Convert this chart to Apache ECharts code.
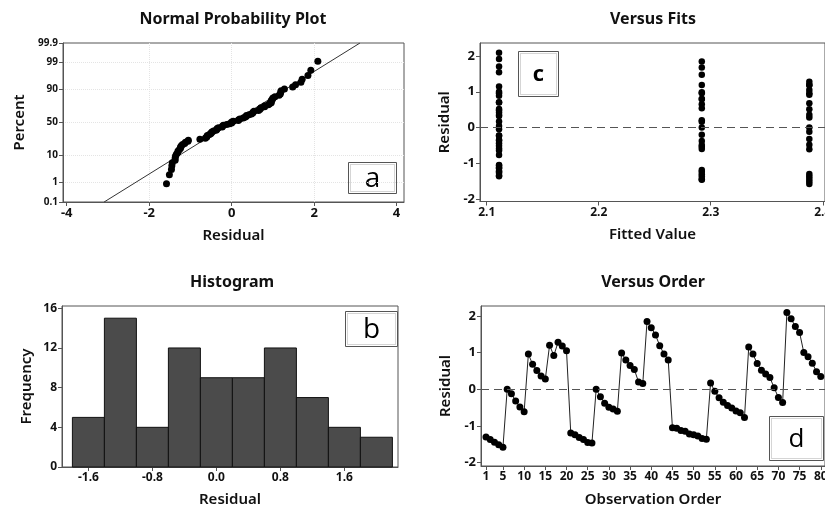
<!DOCTYPE html>
<html>
<head>
<meta charset="utf-8">
<style>html,body{margin:0;padding:0;background:#fff}#chart{width:825px;height:509px}</style>
<script src="https://cdn.jsdelivr.net/npm/echarts@6/dist/echarts.min.js"></script>
</head>
<body>
<div id="chart"></div>
<script>
// residuals in observation order 1..80
const residuals = [
  -1.30, -1.37, -1.44, -1.51, -1.58,
  0.00, -0.12, -0.32, -0.48, -0.61,
  0.96, 0.68, 0.51, 0.36, 0.28,
  1.20, 0.92, 1.28, 1.18, 1.05,
  -1.19, -1.24, -1.31, -1.37, -1.45, -1.46,
  0.00, -0.20, -0.38, -0.49, -0.54, -0.60,
  0.99, 0.80, 0.65, 0.54, 0.20, 0.16,
  1.85, 1.68, 1.48, 1.19, 0.96, 0.80,
  -1.05, -1.06, -1.12, -1.14, -1.22, -1.24, -1.27, -1.34, -1.36,
  0.17, -0.05, -0.23, -0.35, -0.44, -0.51, -0.59, -0.64, -0.77,
  1.15, 0.96, 0.70, 0.52, 0.42, 0.32, 0.04, -0.22, -0.36,
  2.09, 1.92, 1.71, 1.55, 1.00, 0.89, 0.71, 0.48, 0.35
]
// fitted value of each observation
const fitted = [
  2.388, 2.388, 2.388, 2.388, 2.388, 2.388, 2.388, 2.388, 2.388, 2.388,
  2.388, 2.388, 2.388, 2.388, 2.388, 2.388, 2.388, 2.388, 2.388, 2.388,
  2.292, 2.292, 2.292, 2.292, 2.292, 2.292, 2.292, 2.292, 2.292, 2.292, 2.292, 2.292,
  2.292, 2.292, 2.292, 2.292, 2.292, 2.292, 2.292, 2.292, 2.292, 2.292, 2.292, 2.292,
  2.111, 2.111, 2.111, 2.111, 2.111, 2.111, 2.111, 2.111, 2.111,
  2.111, 2.111, 2.111, 2.111, 2.111, 2.111, 2.111, 2.111, 2.111,
  2.111, 2.111, 2.111, 2.111, 2.111, 2.111, 2.111, 2.111, 2.111,
  2.111, 2.111, 2.111, 2.111, 2.111, 2.111, 2.111, 2.111, 2.111
]
const histCenters = [-1.6, -1.2, -0.8, -0.4, 0.0, 0.4, 0.8, 1.2, 1.6, 2.0]
const histCounts = [5, 15, 4, 12, 9, 9, 12, 7, 4, 3]
const binWidth = 0.4

const percentTicks = [0.1, 1, 10, 50, 90, 99, 99.9]
const residualTicks = [-4, -2, 0, 2, 4]
const smallResidualTicks = [-2, -1, 0, 1, 2]
const histXTicks = [-1.6, -0.8, 0.0, 0.8, 1.6]
const histYTicks = [0, 4, 8, 12, 16]
const fitTicks = [2.1, 2.2, 2.3, 2.4]
const orderTicks = [1, 5, 10, 15, 20, 25, 30, 35, 40, 45, 50, 55, 60, 65, 70, 75, 80]

// inverse normal cdf (Acklam)
const normInv = (p) => {
  const a = [-39.69683028665376, 220.9460984245205, -275.9285104469687, 138.3577518672690, -30.66479806614716, 2.506628277459239]
  const b = [-54.47609879822406, 161.5858368580409, -155.6989798598866, 66.80131188771972, -13.28068155288572]
  const c = [-0.007784894002430293, -0.3223964580411365, -2.400758277161838, -2.549732539343734, 4.374664141464968, 2.938163982698783]
  const d = [0.007784695709041462, 0.3224671290700398, 2.445134137142996, 3.754408661907416]
  const tail = (q) => (((((c[0] * q + c[1]) * q + c[2]) * q + c[3]) * q + c[4]) * q + c[5]) /
    ((((d[0] * q + d[1]) * q + d[2]) * q + d[3]) * q + 1)
  if (p < 0.02425) return tail(Math.sqrt(-2 * Math.log(p)))
  if (p > 1 - 0.02425) return -tail(Math.sqrt(-2 * Math.log(1 - p)))
  const q = p - 0.5
  const r = q * q
  return (((((a[0] * r + a[1]) * r + a[2]) * r + a[3]) * r + a[4]) * r + a[5]) * q /
    (((((b[0] * r + b[1]) * r + b[2]) * r + b[3]) * r + b[4]) * r + 1)
}

const n = residuals.length
const sorted = residuals.slice().sort((x, y) => x - y)
const probData = sorted.map((r, i) => [r, normInv((i + 1 - 0.3) / (n + 0.4))])
const mean = residuals.reduce((s, v) => s + v, 0) / n
const sd = Math.sqrt(residuals.reduce((s, v) => s + (v - mean) ** 2, 0) / (n - 1))
const percentZ = percentTicks.map(p => normInv(p / 100))
const zLo = percentZ[0]
const zHi = percentZ[percentZ.length - 1]

const font = 'Noto Sans'
const makeAxis = (gridIndex, min, max, ticks, name, nameGap, formatter, labelSize, grid) => ({
  type: 'value', gridIndex, min, max, name, nameGap,
  nameLocation: 'middle',
  nameTextStyle: {color: '#111', fontSize: 15, fontWeight: 600, fontFamily: font},
  axisLine: {show: true, onZero: false, lineStyle: {color: '#555'}},
  axisTick: {show: true, length: 4, customValues: ticks, lineStyle: {color: '#555'}},
  axisLabel: {
    customValues: ticks, formatter, margin: 5, hideOverlap: false,
    color: '#111', fontSize: labelSize || 12, fontWeight: 'bold', fontFamily: font
  },
  splitLine: {
    show: !!grid, showMinLine: false, showMaxLine: false,
    lineStyle: {color: '#e4e4e4', type: 'dotted'}
  }
})

const zeroLine = {
  silent: true,
  symbol: 'none',
  label: {show: false},
  lineStyle: {color: '#555', width: 1, type: [8, 5]},
  data: [{yAxis: 0}]
}

const titleStyle = {color: '#111', fontSize: 16, fontWeight: 'bold', fontFamily: font}
const makeTitle = (text, x, y) => ({text, left: x, top: y, padding: 0, textAlign: 'center', textStyle: titleStyle})

const tagBox = (x, y, w, h, letter, size, weight) => ({
  type: 'group', left: x, top: y,
  children: [
    {type: 'rect', shape: {x: 0, y: 0, width: w, height: h}, style: {fill: '#fff', stroke: '#555', lineWidth: 1}},
    {type: 'rect', shape: {x: 2, y: 2, width: w - 4, height: h - 4}, style: {fill: 'none', stroke: '#aaa', lineWidth: 1, lineDash: [1, 1]}},
    {type: 'text', x: w / 2, y: h / 2 + 1, style: {text: letter, fill: '#000', font: `${weight} ${size}px "Open Sans"`, align: 'center', verticalAlign: 'middle'}}
  ]
})

const gridBase = {show: true, borderColor: '#555', borderWidth: 1, containLabel: false, outerBoundsMode: 'none'}

const chart = echarts.init(document.getElementById('chart'))
chart.setOption({
  animation: false,
  backgroundColor: '#fff',
  title: [
    makeTitle('Normal Probability Plot', 233, 11),
    makeTitle('Versus Fits', 653, 11),
    makeTitle('Histogram', 232, 274),
    makeTitle('Versus Order', 653, 274)
  ],
  grid: [
    {...gridBase, left: 63, top: 43, width: 341, height: 159},
    {...gridBase, left: 480, top: 43, width: 345, height: 158.5},
    {...gridBase, left: 62, top: 306, width: 336, height: 161},
    {...gridBase, left: 481, top: 306, width: 344, height: 160}
  ],
  xAxis: [
    makeAxis(0, -4.09, 4.18, residualTicks, 'Residual', 26, v => String(v), 13, true),
    makeAxis(1, 2.094, 2.402, fitTicks, 'Fitted Value', 26, v => v.toFixed(1), 12),
    makeAxis(2, -1.93, 2.27, histXTicks, 'Residual', 25, v => v.toFixed(1), 12),
    makeAxis(3, -0.18, 81, orderTicks, 'Observation Order', 26, v => String(v), 12)
  ],
  yAxis: [
    makeAxis(0, zLo, zHi, percentZ, 'Percent', 36,
      v => String(percentTicks[percentZ.findIndex(z => Math.abs(z - v) < 1e-6)]), 10, true),
    makeAxis(1, -2.07, 2.365, smallResidualTicks, 'Residual', 28, v => String(v), 13),
    makeAxis(2, 0, 16.23, histYTicks, 'Frequency', 28, v => String(v), 12),
    makeAxis(3, -2.09, 2.27, smallResidualTicks, 'Residual', 28, v => String(v), 13)
  ],
  series: [
    {
      type: 'scatter', xAxisIndex: 0, yAxisIndex: 0,
      data: probData, symbolSize: 7, itemStyle: {color: '#000', opacity: 1}, z: 3
    },
    {
      type: 'line', xAxisIndex: 0, yAxisIndex: 0,
      data: [[mean + sd * zLo, zLo], [mean + sd * zHi, zHi]],
      showSymbol: false, lineStyle: {color: '#333', width: 1}
    },
    {
      type: 'scatter', xAxisIndex: 1, yAxisIndex: 1,
      data: fitted.map((f, i) => [f, residuals[i]]),
      symbolSize: 6.5, itemStyle: {color: '#000', opacity: 1},
      markLine: zeroLine
    },
    {
      type: 'custom', xAxisIndex: 2, yAxisIndex: 2,
      data: histCenters.map((c, i) => [c - binWidth / 2, c + binWidth / 2, histCounts[i]]),
      encode: {x: [0, 1], y: 2},
      renderItem: (params, api) => {
        const p0 = api.coord([api.value(0), 0])
        const p1 = api.coord([api.value(1), api.value(2)])
        return {
          type: 'rect',
          shape: {x: p0[0], y: p1[1], width: p1[0] - p0[0], height: p0[1] - p1[1]},
          style: {fill: '#4b4b4b', stroke: '#111', lineWidth: 1}
        }
      }
    },
    {
      type: 'line', xAxisIndex: 3, yAxisIndex: 3,
      data: residuals.map((r, i) => [i + 1, r]),
      symbol: 'circle', symbolSize: 7, showSymbol: true,
      lineStyle: {color: '#222', width: 1},
      itemStyle: {color: '#000'},
      markLine: zeroLine
    }
  ],
  graphic: [
    tagBox(348, 162, 48, 31, 'a', 28, 'normal'),
    tagBox(345, 311, 52, 35, 'b', 28, 'normal'),
    tagBox(518, 51, 40, 45, 'c', 22, 'bold'),
    tagBox(769, 416, 54, 44, 'd', 26, 'normal')
  ]
})
</script>
</body>
</html>
